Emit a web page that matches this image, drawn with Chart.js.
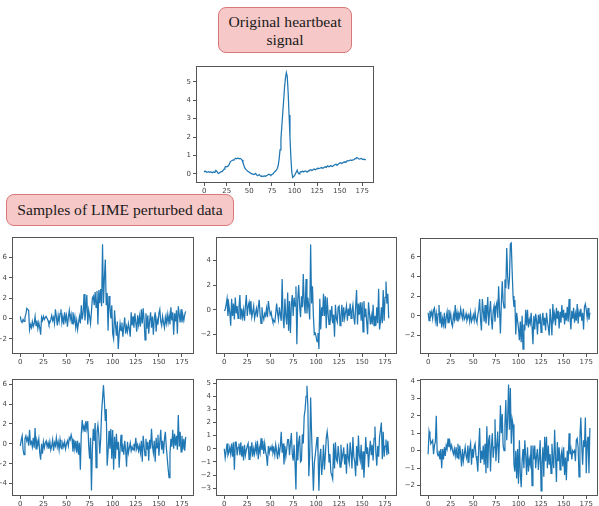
<!DOCTYPE html>
<html>
<head>
<meta charset="utf-8">
<script src="https://cdn.jsdelivr.net/npm/chart.js@4.4.1/dist/chart.umd.min.js"></script>
<style>
  body { margin: 0; background: #fff; width: 599px; height: 506px; overflow: hidden; position: relative; }
  .tag {
    position: absolute; box-sizing: border-box; text-align: center;
    background: #f6c8c8; border: 1px solid #d9787b; border-radius: 8px;
    font-family: "Liberation Serif", "Times New Roman", serif; font-size: 15.6px; color: #1a1a1a;
  }
  canvas { position: absolute; }
</style>
</head>
<body>
<div class="tag" style="left:218px;top:7px;width:134px;height:46px;line-height:18px;padding-top:5px;">Original heartbeat<br>signal</div>
<div class="tag" style="left:6px;top:194px;width:228px;height:32px;line-height:30px;">Samples of LIME perturbed data</div>
<canvas id="panel0"></canvas>
<canvas id="panel1"></canvas>
<canvas id="panel2"></canvas>
<canvas id="panel3"></canvas>
<canvas id="panel4"></canvas>
<canvas id="panel5"></canvas>
<canvas id="panel6"></canvas>
<script>
// sample positions along the beat and shared x ticks
const sampleIndex = Array.from({ length: 180 }, (_, i) => i);
const xTicks = [0, 25, 50, 75, 100, 125, 150, 175];

// original beat
const original = [
  0.10, 0.15, 0.12, 0.08, 0.10, 0.12, 0.08, 0.10, 0.09, 0.06,
  0.10, 0.08, 0.12, 0.18, 0.14, 0.05, 0.02, 0.06, 0.10, 0.12,
  0.12, 0.18, 0.25, 0.35, 0.40, 0.38, 0.40, 0.45, 0.55, 0.65,
  0.70, 0.72, 0.75, 0.78, 0.80, 0.85, 0.82, 0.85, 0.84, 0.82,
  0.84, 0.80, 0.75, 0.60, 0.45, 0.32, 0.25, 0.20, 0.15, 0.12,
  0.08, 0.05, 0.02, 0.00, -0.02, -0.04, -0.02, 0.02, -0.05, -0.10,
  -0.08, -0.04, -0.10, -0.14, -0.12, -0.15, -0.13, -0.12, -0.14, -0.10,
  -0.08, -0.04, -0.02, -0.06, -0.08, -0.04, -0.02, 0.05, 0.10, 0.15,
  0.20, 0.30, 0.45, 0.80, 1.30, 1.90, 2.60, 3.30, 4.00, 4.70,
  5.20, 5.50, 5.30, 4.40, 3.20, 2.00, 0.90, 0.10, -0.20, -0.15,
  -0.10, 0.00, 0.10, 0.20, 0.05, 0.00, 0.08, 0.12, 0.10, 0.15,
  0.10, 0.14, 0.16, 0.12, 0.10, 0.14, 0.18, 0.20, 0.22, 0.18,
  0.20, 0.24, 0.26, 0.22, 0.25, 0.28, 0.30, 0.28, 0.30, 0.32,
  0.34, 0.30, 0.32, 0.36, 0.38, 0.35, 0.40, 0.42, 0.38, 0.40,
  0.45, 0.42, 0.40, 0.44, 0.48, 0.50, 0.52, 0.48, 0.50, 0.55,
  0.58, 0.60, 0.56, 0.58, 0.62, 0.65, 0.62, 0.66, 0.70, 0.72,
  0.70, 0.72, 0.75, 0.72, 0.74, 0.76, 0.78, 0.82, 0.85, 0.88,
  0.86, 0.82, 0.80, 0.82, 0.84, 0.80, 0.78, 0.80, 0.78, 0.76
];
const originalTicks = [0, 1, 2, 3, 4, 5];

// perturbed samples
const perturbedA = [
  0.2, -0.3, -0.4, -0.1, -0.3, 0.1, 0.4, 1.0, 0.9, 0.8,
  -1.1, -0.6, -0.9, -0.3, -0.8, -0.5, 0.2, -0.7, -0.2, -1.0,
  -0.4, -0.9, -1.6, 0.1, -0.2, 0.2, -0.1, 0.1, 0.2, 0.0,
  -0.2, -0.6, -0.4, -0.1, 0.3, -0.2, 0.1, -0.5, 0.9, 0.2,
  -0.7, 0.3, -0.3, 0.5, 0.9, -0.4, 0.2, -0.6, 0.6, -0.2,
  0.3, -0.8, 0.1, 0.8, -0.1, 0.4, -0.5, 0.6, -0.3, 0.2,
  -0.9, -0.2, -1.1, -0.4, 0.2, -0.5, 1.3, -0.1, 0.6, 2.4,
  -0.2, 1.0, 2.3, -0.6, 0.8, 0.2, -0.5, 0.7, 2.0, 2.2,
  1.3, 2.6, 1.1, 2.7, -0.6, 2.8, 1.5, 2.9, 1.2, 7.3,
  1.5, 4.0, 5.8, 1.3, 2.5, -1.2, 2.2, 1.2, 0.0, 1.3,
  -1.5, -2.0, 0.8, -0.6, -1.7, -0.3, -3.0, -1.5, -0.5, -1.2,
  -0.4, -1.8, -0.8, 0.1, -1.5, -0.8, -1.3, -0.5, -1.0, -1.8,
  0.6, -0.7, 0.2, -0.9, 0.5, -0.4, -1.3, 0.3, -0.6, 0.2,
  -0.8, 0.9, -0.5, 1.0, -0.2, -2.1, 0.5, -1.0, 0.3, -1.5,
  -0.2, 0.6, -0.9, 0.2, -1.6, 0.0, 0.6, -1.3, -0.1, -0.6,
  0.5, 0.9, -0.3, -0.7, 0.2, -0.4, -0.9, 0.1, -0.5, 0.4,
  -0.4, 0.3, -0.6, 1.1, -0.2, 0.6, -1.6, 0.5, -0.3, 0.8,
  -1.5, 1.2, 0.4, -0.4, 0.9, -0.4, 0.3, -0.2, 0.4, 0.7
];
const ticksA = [-2, 0, 2, 4, 6];

const perturbedB = [
  -0.1, 0.0, 0.4, 0.9, -0.5, 0.4, -0.2, -1.3, 0.9, -0.5,
  0.5, -0.8, 1.0, -0.3, 0.3, -0.7, 0.2, 1.2, -0.8, 0.1,
  -0.6, 0.0, -0.9, 0.3, 1.2, -0.5, 0.3, 0.6, -0.4, 0.7,
  -0.6, -0.2, 0.3, -0.7, -0.3, 0.1, -0.6, 0.2, 0.8, -0.4,
  -1.1, 0.2, -0.5, -0.8, -0.3, -0.5, 0.1, -0.6, 0.7, 0.1,
  -0.4, -0.2, -0.7, -1.0, -0.9, -1.0, -0.3, 0.5, -0.3, -0.8,
  0.2, -0.4, -0.9, 2.5, -0.6, -1.5, 0.9, -0.5, -1.2, 1.4,
  -1.7, 0.7, -1.9, 0.4, 1.2, -0.5, 1.0, 0.3, 1.9, -2.8,
  0.9, 2.0, 0.3, -0.6, 1.1, 0.2, 2.9, 0.5, -0.3, 2.5,
  -0.3, 1.0, 0.2, -0.8, 5.3, 0.5, 1.9, -0.5, -2.0, -1.9,
  -2.2, -2.6, -1.9, -3.2, 0.9, -1.6, 0.2, -0.5, 1.3, -0.5,
  1.1, -1.5, 1.0, -0.3, -1.2, 0.0, -0.6, 0.3, -1.1, -0.4,
  -2.2, 0.4, -0.7, -1.0, 0.2, 0.3, -1.3, -0.5, 0.4, -1.0,
  0.2, -0.7, -0.2, 0.3, -0.9, 0.1, -0.5, 0.5, -0.7, -0.1,
  0.4, -0.6, -1.2, 0.3, 1.6, -1.2, 0.5, -0.4, 0.6, -0.9,
  0.6, -1.8, 0.7, -0.6, 0.1, -1.0, -2.0, 0.6, -0.3, -1.2,
  -0.5, -1.2, 0.4, -1.3, -0.5, -1.3, 0.2, -1.1, 1.7, -1.6,
  -1.0, 0.2, -1.1, 1.6, -0.9, 1.0, 2.3, 0.5, 1.3, -0.7
];
const ticksB = [-2, 0, 2, 4];

const perturbedC = [
  0.3, -0.5, 0.5, 0.0, 0.4, -0.3, 0.6, 0.8, -0.5, 0.2,
  -1.1, 0.2, 1.1, -0.8, 0.4, -1.2, -0.3, -0.9, 0.3, -1.3,
  -0.2, 0.4, -0.7, 0.6, -0.3, 0.2, -0.8, -1.1, 0.1, -0.4,
  1.1, -0.5, 0.3, -0.6, 0.2, -0.2, 0.7, 0.1, -0.3, 0.7,
  -0.4, -0.2, 0.2, -0.5, -0.2, 0.1, -0.6, 0.3, -0.6, -0.3,
  0.1, -0.5, 0.4, -0.4, -0.7, 0.1, 0.6, 1.7, -0.4, -1.5,
  1.7, 0.5, -0.6, 1.1, -0.8, 0.2, 1.9, -1.0, 0.4, 1.5,
  -0.3, -1.4, 0.5, 1.0, -0.6, 0.9, 1.3, -0.2, 3.0, 0.7,
  -1.8, 1.2, 3.5, 1.5, 0.8, 3.7, 2.8, 6.9, 4.0, 2.7,
  3.8, 7.3, 7.4, 4.5, 2.0, 0.9, 1.6, -1.9, 0.3, -0.5,
  -1.3, -2.5, -0.6, -2.7, 0.0, -3.4, -0.9, -1.5, 0.6, -1.0,
  0.6, -1.2, -0.4, -0.8, 0.3, -1.1, -2.9, 0.0, -1.4, 0.2,
  -0.5, -1.9, 0.1, -0.8, 0.2, -1.7, -0.5, 0.3, -1.0, -0.2,
  -1.5, 0.3, -0.6, -1.2, -2.0, 0.7, -0.5, -2.0, 1.2, -0.4,
  0.2, -1.0, 0.8, -0.3, 0.5, -1.3, 0.4, -0.7, 1.1, -0.2,
  0.6, -0.9, 0.3, -0.5, 0.9, -0.6, 1.7, -0.2, -1.4, 0.5,
  -0.3, 0.8, -0.7, 0.2, -0.5, 1.2, -0.8, 0.4, -0.1, 0.7,
  -0.5, 0.3, -1.4, 0.9, 1.2, 0.6, -0.2, 0.8, -0.4, 0.3
];
const ticksC = [-2, 0, 2, 4, 6];

const perturbedD = [
  -0.2, 0.4, 0.8, -0.6, -1.1, 0.5, 0.8, 0.3, 0.6, -0.2,
  1.4, 0.0, 0.2, -0.3, 0.6, -0.4, 1.6, -0.5, 0.3, -0.1,
  0.5, -0.9, -1.6, 0.0, -1.0, 0.2, -0.4, 0.1, 0.3, -0.3,
  0.1, -0.5, 0.2, -0.6, -0.2, 0.4, -0.7, 0.1, -0.2, 0.6,
  -0.3, 0.2, -0.6, 0.4, -0.4, -0.5, 0.1, -0.3, 0.2, -0.5,
  0.0, 0.3, -0.2, 0.6, 0.4, 0.9, 0.5, -0.8, 0.4, -0.5,
  0.3, -0.9, 0.3, -1.1, 0.1, -2.6, 1.0, 2.4, 1.4, 1.8,
  1.2, 2.3, 1.5, 2.3, -0.2, -1.5, 0.6, -4.7, -0.5, 1.5,
  0.3, 2.1, -2.4, 1.2, 1.9, 0.8, -1.0, 0.5, 3.2, 4.5,
  5.9, 4.3, 2.3, 3.5, -2.2, -0.8, 1.3, -0.5, 1.5, -1.5,
  1.4, -2.6, 0.7, -1.5, 1.0, -0.6, 0.2, -2.4, -0.5, 0.9,
  -0.8, -0.3, -1.1, 0.3, -0.6, -2.3, 0.2, -0.9, -0.4, 0.1,
  -0.7, -0.3, -0.6, 0.0, -0.5, 0.6, -0.5, -0.1, -0.7, -0.2,
  -0.9, 0.3, -1.8, 0.8, -0.3, -1.2, 0.5, -0.6, 0.2, -1.7,
  0.4, -0.5, 1.5, -0.2, -0.9, 0.3, -1.8, 0.6, -0.4, 0.9,
  -1.2, 0.2, 1.4, -0.6, 0.3, -1.0, 0.5, 1.2, -0.3, -1.4,
  -2.5, -3.4, -1.0, 0.5, -0.3, 1.4, -0.5, 1.0, -0.2, 0.8,
  -0.6, 2.9, -0.3, 1.2, -0.8, 0.8, -0.6, 0.5, -0.7, 0.7
];
const ticksD = [-4, -2, 0, 2, 4, 6];

const perturbedE = [
  0.0, -0.7, -0.2, 0.4, -0.5, -0.3, 0.1, -0.4, 0.4, -0.6,
  0.5, -1.6, 0.5, 0.5, -0.5, 0.1, 0.4, -0.5, 0.5, -0.6,
  0.2, -0.9, 0.3, -0.5, -0.1, 0.2, 0.4, -0.8, 0.2, -0.3,
  0.5, -0.6, 0.0, -0.4, 0.3, -0.2, 0.6, -0.8, 0.1, -0.3,
  0.8, -0.1, 0.6, -0.4, 0.4, -0.2, -0.6, -1.3, 0.2, -0.3,
  0.1, -0.1, 0.2, -0.3, 0.0, -0.5, 0.3, -0.2, -0.8, 0.1,
  -0.4, 0.2, 1.3, -0.3, 0.4, -1.2, 0.2, -0.6, 0.0, 0.7,
  0.7, -0.5, 0.4, 1.2, -0.4, -0.9, 0.3, -1.1, -3.1, 1.3,
  -0.9, 0.5, 1.0, -1.0, -0.9, 1.1, 0.4, 2.5, 3.0, 4.0,
  4.8, 3.2, -2.1, -0.5, 3.9, 1.2, -1.0, -3.2, -1.1, -0.5,
  0.2, 0.9, -0.2, -3.2, -0.6, 0.0, -2.0, -1.2, 0.3, -1.6,
  -0.5, 0.8, 1.3, 0.6, -1.0, -0.4, -1.8, -2.0, -2.3, 0.4,
  -1.5, 0.5, -0.8, -1.0, 0.2, -0.6, -1.4, 0.3, -0.9, -0.5,
  0.1, -1.2, -0.4, -1.9, 0.4, -0.7, -1.1, 0.5, -0.3, -1.5,
  0.9, -0.6, -1.0, -2.1, 0.2, -1.3, 1.0, -0.5, -0.9, 0.3,
  -1.6, -0.2, -2.2, -0.8, 0.9, -0.4, 0.1, -1.4, -0.2, 0.6,
  -0.5, 0.3, -0.9, 0.8, 1.7, -0.3, -1.3, 0.2, -0.6, 0.9,
  1.4, 2.0, -0.8, 1.3, -0.6, 0.2, 0.7, -0.5, 0.6, -0.4
];
const ticksE = [-3, -2, -1, 0, 1, 2, 3, 4, 5];

const perturbedF = [
  -0.2, 1.1, 0.8, 0.4, 0.5, 0.6, -0.2, 0.3, 0.5, 2.0,
  -0.1, -0.3, 0.0, -0.5, 0.1, -1.0, 0.1, -0.5, 0.2, -0.3,
  0.3, 0.1, 0.7, 0.2, 0.5, 0.1, 0.3, 0.0, -0.2, 0.1,
  -0.3, 0.2, -0.4, 0.4, -0.5, 0.3, -0.2, -0.9, 0.1, -0.6,
  -0.2, 0.2, -0.3, -0.5, 0.3, -0.7, 0.1, 0.4, -0.8, 0.1,
  -0.4, 0.2, 0.4, -0.3, -0.6, -1.2, 0.2, 1.3, -0.7, 0.0,
  -0.5, 0.3, -0.8, 0.4, -1.3, 1.4, -1.0, 0.6, 0.9, -1.2,
  0.2, 1.0, -0.4, 0.2, 1.8, -0.6, 0.3, 1.1, -0.7, 0.6,
  2.6, 1.0, 2.1, 0.3, 0.0, 1.5, 2.9, 0.6, 1.8, 3.8,
  1.2, 3.6, 0.4, 1.8, 1.5, -0.8, -1.2, 0.0, -1.6, 0.1,
  -1.9, 0.6, -1.3, -2.1, -0.6, 0.1, -1.0, 0.6, -0.3, -1.4,
  0.2, -1.2, -0.5, -0.8, 0.3, -2.0, 0.3, -0.5, 0.3, -1.0,
  -0.3, 0.1, -1.1, -0.4, 0.6, -2.3, -0.7, 0.2, -1.5, 0.8,
  -0.6, 0.8, -1.0, 0.3, -0.8, -0.2, -1.3, 0.4, -0.5, -1.0,
  1.2, -0.4, -1.8, 0.5, -0.6, 0.2, -1.1, -0.3, 0.0, -0.9,
  0.2, -1.4, -0.4, -1.7, 0.0, -0.6, 1.0, -0.2, 0.1, -0.5,
  0.0, -0.1, 0.0, -0.6, 0.6, 0.7, 0.2, -1.5, 0.8, 1.9,
  0.3, -0.8, 0.6, 0.2, 1.9, -1.3, 0.5, 0.8, -1.3, 1.3
];
const ticksF = [-2, -1, 0, 1, 2, 3, 4];

// panel placement: plot-area box in page pixels plus value range
const panels = [
  { id: 'panel0', values: original,   ticks: originalTicks, yMin: -0.5, yMax: 5.85, left: 196, top: 64,  width: 178, height: 119 },
  { id: 'panel1', values: perturbedA, ticks: ticksA, yMin: -3.5, yMax: 8.0,  left: 12,  top: 235, width: 182, height: 119 },
  { id: 'panel2', values: perturbedB, ticks: ticksB, yMin: -3.6, yMax: 5.9,  left: 216, top: 235, width: 181, height: 119 },
  { id: 'panel3', values: perturbedC, ticks: ticksC, yMin: -3.9, yMax: 7.9,  left: 420, top: 236, width: 178, height: 118 },
  { id: 'panel4', values: perturbedD, ticks: ticksD, yMin: -5.25, yMax: 6.5, left: 12,  top: 377, width: 182, height: 119 },
  { id: 'panel5', values: perturbedE, ticks: ticksE, yMin: -3.6, yMax: 5.3,  left: 216, top: 377, width: 181, height: 119 },
  { id: 'panel6', values: perturbedF, ticks: ticksF, yMin: -2.6, yMax: 4.1,  left: 420, top: 377, width: 178, height: 119 }
];

const AXIS_W = 26;   // room for y tick labels
const AXIS_H = 16;   // room for x tick labels
const PAD = 4;

// matplotlib-style closed frame around the plot area
const frame = {
  id: 'frame',
  afterDraw(chart) {
    const { ctx, chartArea: a } = chart;
    ctx.save();
    ctx.strokeStyle = '#555';
    ctx.lineWidth = 1;
    ctx.strokeRect(Math.round(a.left) + 0.5, Math.round(a.top) + 0.5,
                   Math.round(a.right - a.left) - 1, Math.round(a.bottom - a.top) - 1);
    ctx.restore();
  }
};

const fmt = v => (v < 0 ? '\u2212' + Math.abs(v) : String(v));
const tickFont = { family: 'DejaVu Sans', size: 7 };

panels.forEach(p => {
  const canvas = document.getElementById(p.id);
  canvas.width = p.width + AXIS_W + PAD;
  canvas.height = p.height + AXIS_H + PAD;
  canvas.style.left = (p.left - AXIS_W) + 'px';
  canvas.style.top = (p.top - PAD) + 'px';

  new Chart(canvas, {
    type: 'line',
    data: {
      datasets: [{
        data: p.values.map((v, i) => ({ x: sampleIndex[i], y: v })),
        borderColor: '#1f77b4',
        borderWidth: 1.25,
        pointRadius: 0,
        tension: 0,
        fill: false
      }]
    },
    options: {
      responsive: false,
      animation: false,
      devicePixelRatio: 1,
      layout: { padding: { top: PAD, right: PAD, left: 0, bottom: 0 } },
      plugins: { legend: { display: false }, tooltip: { enabled: false } },
      scales: {
        x: {
          type: 'linear', min: -9, max: 188,
          afterBuildTicks: s => { s.ticks = xTicks.map(v => ({ value: v })); },
          afterFit: s => { s.height = AXIS_H; },
          grid: { drawOnChartArea: false, drawTicks: true, tickLength: 3, color: '#555' },
          border: { display: false },
          ticks: { font: tickFont, color: '#444', padding: 1, maxRotation: 0, autoSkip: false, callback: fmt }
        },
        y: {
          type: 'linear', min: p.yMin, max: p.yMax,
          afterBuildTicks: s => { s.ticks = p.ticks.map(v => ({ value: v })); },
          afterFit: s => { s.width = AXIS_W; },
          grid: { drawOnChartArea: false, drawTicks: true, tickLength: 3, color: '#555' },
          border: { display: false },
          ticks: { font: tickFont, color: '#444', padding: 2, autoSkip: false, callback: fmt }
        }
      }
    },
    plugins: [frame]
  });
});
</script>
</body>
</html>
